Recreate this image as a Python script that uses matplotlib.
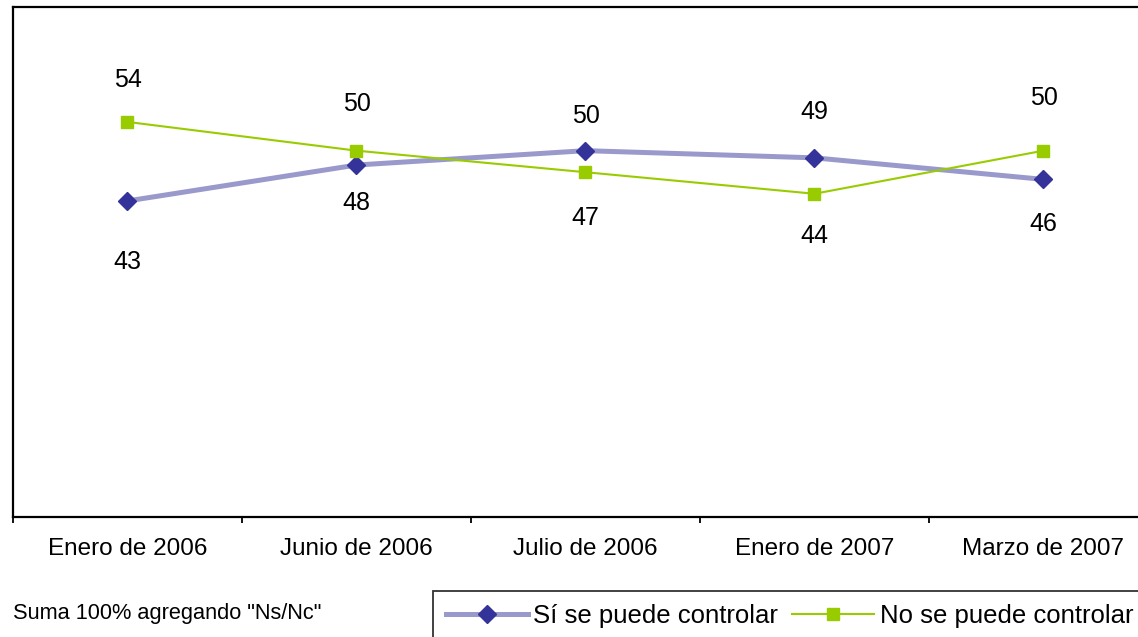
import matplotlib
matplotlib.use("Agg")
import matplotlib.pyplot as plt
from matplotlib.ticker import FixedLocator, NullFormatter, FixedFormatter

plt.rcParams['font.family'] = ['Liberation Sans', 'DejaVu Sans']

categories = ["Enero de 2006", "Junio de 2006", "Julio de 2006", "Enero de 2007", "Marzo de 2007"]
si_values = [43, 48, 50, 49, 46]
no_values = [54, 50, 47, 44, 50]
si_label = "Sí se puede controlar"
no_label = "No se puede controlar"
footnote = 'Suma 100% agregando "Ns/Nc"'

# label offsets in pixels (layout only)
si_offsets = [-61, -38, 35, 46, -45]
no_offsets = [42, 47, -46, -42, 53]

W, H = 1138, 637
fig = plt.figure(figsize=(W / 100, H / 100), dpi=100)
left, right, top, bottom = 13, 1158, 7, 517
ax = fig.add_axes([left / W, 1 - bottom / H, (right - left) / W, (bottom - top) / H])

x = list(range(len(categories)))
ax.plot(x, si_values, color='#9999CC', lw=3.6, marker='D', ms=9,
        mfc='#333399', mec='#333399', label=si_label, zorder=3)
ax.plot(x, no_values, color='#99CC00', lw=1.5, marker='s', ms=8,
        mfc='#99CC00', mec='#99CC00', label=no_label, zorder=3)

for xi, v, off in zip(x, si_values, si_offsets):
    ax.annotate(str(v), (xi, v), xytext=(0, off), textcoords='offset pixels',
                ha='center', va='center', fontsize=18, color='black')
for xi, v, off in zip(x, no_values, no_offsets):
    ax.annotate(str(v), (xi, v), xytext=(0, off), textcoords='offset pixels',
                ha='center', va='center', fontsize=18, color='black')

ax.set_xlim(-0.5, len(categories) - 0.5)
ax.set_ylim(-1, 70)
ax.set_yticks([])

ax.xaxis.set_major_locator(FixedLocator([i - 0.5 for i in range(len(categories) + 1)]))
ax.xaxis.set_major_formatter(NullFormatter())
ax.xaxis.set_minor_locator(FixedLocator(x))
ax.xaxis.set_minor_formatter(FixedFormatter(categories))
ax.tick_params(axis='x', which='major', direction='out', length=4.5, width=1.3, color='black')
ax.tick_params(axis='x', which='minor', length=0, pad=15, labelsize=17.5)

for s in ['left', 'top', 'bottom', 'right']:
    ax.spines[s].set_linewidth(1.6)
    ax.spines[s].set_color('black')

fig.text(13 / W, 1 - 613 / H, footnote, fontsize=15.7, ha='left', va='center')

leg = fig.legend(loc='upper left', bbox_to_anchor=(433 / W, 1 - 591 / H), ncol=2,
                 fontsize=18.5, frameon=True, fancybox=False, borderaxespad=0,
                 handlelength=3.2, handletextpad=0.2, columnspacing=0.55,
                 borderpad=0.5)
leg.get_frame().set_edgecolor('black')
leg.get_frame().set_linewidth(1.3)

fig.savefig('out.png', dpi=100)
